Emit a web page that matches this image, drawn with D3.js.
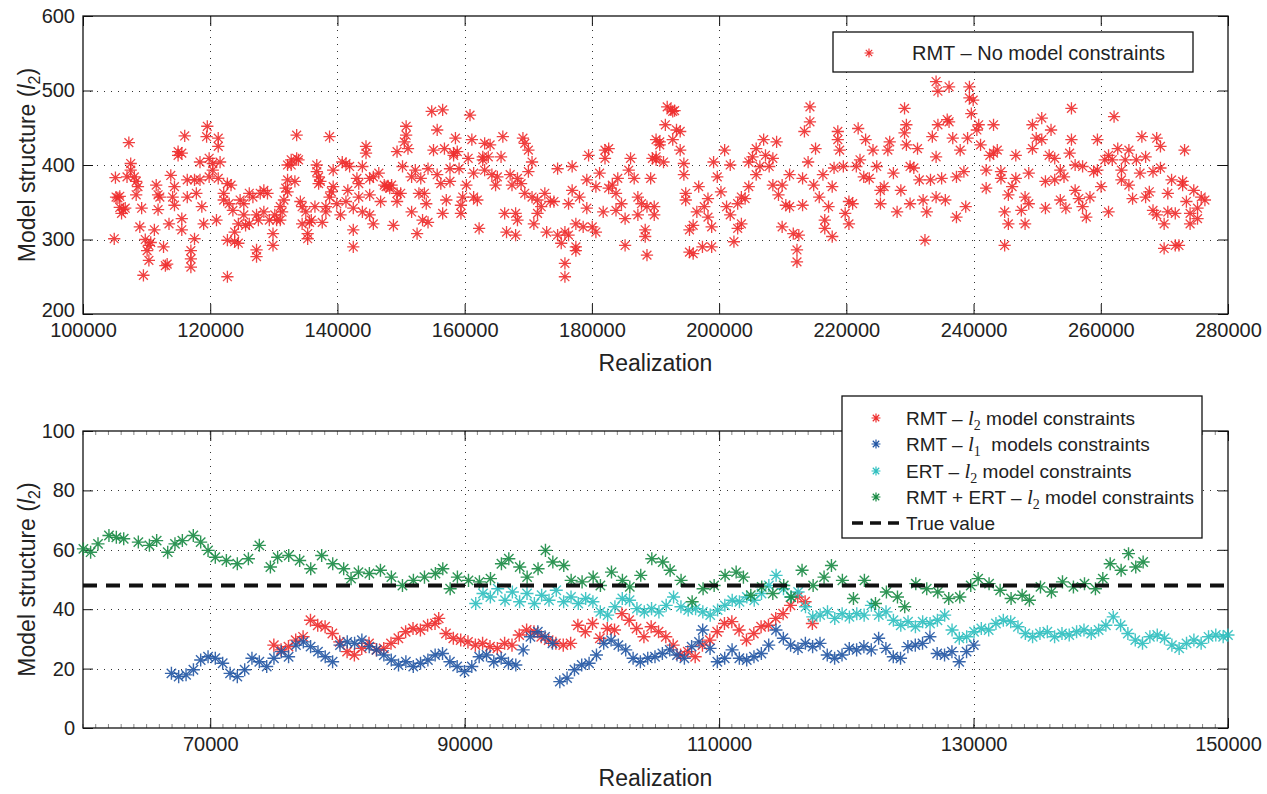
<!DOCTYPE html>
<html><head><meta charset="utf-8">
<script src="https://cdn.jsdelivr.net/npm/d3@7"></script>
<style>
html,body{margin:0;padding:0;background:#fff;}
svg text{font-family:"Liberation Sans",Arial,Helvetica,sans-serif;fill:#222;}
</style></head>
<body>
<svg id="c" width="1267" height="794"></svg>
<script>
// ---------- DATA ----------
const topXTicks = [100000,120000,140000,160000,180000,200000,220000,240000,260000,280000];
const topYTicks = [200,300,400,500,600];
const botXTicks = [70000,90000,110000,130000,150000];
const botYTicks = [0,20,40,60,80,100];
const trueValue = 48;

// RMT – No model constraints : [realization, l2]
const rmtNoConstraint = [
[104910,301],[105100,383],[105200,357],[105490,356],[105780,358],[105780,343],[106060,335],[106350,340],[106640,342],[106920,384],[107210,430],[107500,402],[107500,393],[108070,384],[108360,378],[108640,371],[108360,360],[108930,317],[109220,342],[109790,300],[110080,285],[110360,272],[109500,252],[110360,292],[110650,296],[111220,313],[111510,373],[111800,360],[111800,340],[112080,357],[112660,290],[112950,265],[113230,267],[113520,321],[113800,386],[114090,357],[114380,371],[114380,346],[114950,418],[114950,413],[115530,416],[115530,328],[115530,313],[115990,439],[116390,380],[116390,357],[116960,285],[116960,274],[116960,263],[117530,380],[117530,301],[117820,362],[118390,404],[118390,380],[118680,344],[118970,321],[119430,438],[119540,452],[119830,409],[119830,384],[120400,402],[120400,393],[120980,326],[121260,436],[121260,425],[121260,382],[121550,404],[122120,362],[122120,353],[122700,375],[122700,250],[122700,299],[122980,348],[123270,373],[123560,339],[123840,310],[123840,297],[124420,295],[124420,321],[124700,353],[125280,348],[125280,333],[125560,319],[126140,362],[126140,321],[126710,357],[127280,333],[127280,286],[127280,277],[127570,326],[127860,362],[128430,366],[128430,337],[129000,362],[129290,326],[129870,308],[129870,292],[130150,333],[130440,326],[131010,326],[131010,344],[131300,337],[131590,353],[131870,369],[132160,400],[132160,380],[132160,364],[132730,400],[132730,407],[133310,378],[133590,440],[133590,409],[133880,407],[134170,351],[134450,344],[134450,321],[135030,337],[135320,308],[135320,301],[135600,323],[135890,326],[136460,344],[136750,400],[136750,391],[137040,384],[137040,375],[137320,378],[137610,323],[138180,344],[138180,337],[138760,438],[138760,357],[139040,364],[139330,393],[139330,371],[139900,348],[140480,333],[140760,404],[141340,402],[141340,351],[141630,366],[141910,398],[142490,342],[142490,313],[142490,290],[143060,382],[143350,375],[143350,357],[143920,398],[143920,337],[144490,425],[144490,416],[145070,382],[145070,360],[145070,333],[145640,384],[145640,321],[146500,389],[146790,351],[147360,373],[147650,371],[147940,372],[148220,369],[148510,373],[148800,319],[149370,418],[149370,362],[149370,351],[149940,362],[150230,398],[150520,431],[150800,452],[150800,440],[151090,422],[151660,384],[151660,337],[152240,393],[152520,308],[152810,362],[153100,382],[153380,326],[153670,362],[153960,348],[154240,395],[154240,323],[154820,472],[155100,420],[155680,447],[155680,387],[156250,375],[156540,474],[156540,335],[156820,422],[157110,353],[157690,395],[157690,378],[158260,413],[158260,416],[158550,436],[158830,418],[159120,395],[159410,335],[159410,346],[159690,357],[160270,373],[160550,409],[160840,467],[161130,434],[161410,389],[161410,357],[161990,353],[162270,315],[162850,411],[162850,407],[163140,429],[163140,393],[163710,411],[164000,427],[164280,387],[164860,373],[165140,384],[165720,411],[166000,438],[166290,335],[166580,310],[167150,387],[167440,373],[168010,335],[168010,306],[168300,382],[168300,326],[168870,375],[169160,436],[169450,429],[169450,362],[170020,420],[170020,391],[170590,404],[170590,357],[170880,321],[171450,353],[171450,335],[172030,344],[172600,362],[172890,310],[173460,351],[174030,351],[174610,395],[174610,306],[175180,295],[175760,268],[175760,250],[175760,310],[176330,348],[176330,306],[176900,398],[176900,366],[177480,321],[177480,290],[177480,285],[178050,357],[178630,317],[179200,380],[179200,342],[179480,413],[180060,317],[180630,371],[180630,310],[181210,389],[181780,337],[182060,420],[182060,409],[182640,422],[182640,369],[183210,373],[183790,362],[183790,339],[184070,382],[184650,348],[185220,292],[185220,328],[185790,393],[186080,409],[186650,382],[187230,357],[187230,333],[187800,348],[188380,313],[188380,304],[188660,279],[188660,344],[189240,382],[189520,409],[190090,434],[190670,427],
[189800,344],[189800,333],[190090,411],[190090,407],[190670,431],[191260,404],[191550,454],[191840,478],[192420,474],[192710,472],[193000,473],[192710,434],[193300,447],[193880,445],[193880,420],[194460,402],[194460,387],[194750,362],[194750,353],[195340,313],[195340,283],[195920,319],[195920,281],[196500,337],[196790,371],[197380,290],[197670,344],[198250,355],[198250,330],[198830,290],[198830,317],[199130,404],[199710,384],[200290,364],[200870,420],[201170,344],[201750,400],[201750,333],[202330,297],[202920,348],[202920,315],[203500,357],[203500,321],[204080,355],[204660,404],[204660,371],[205250,411],[205830,422],[205830,387],[206410,398],[207000,434],[207290,413],[207870,398],[208450,409],[208450,373],[209040,431],[209330,360],[209910,373],[209910,317],[210490,346],[211080,387],[211080,344],[211660,308],[212240,286],[212240,270],[212530,306],[213120,382],[213120,346],[213410,445],[213990,404],[214280,478],[214280,458],[214870,373],[215160,422],[215740,357],[216320,387],[216610,326],[216610,315],[217200,344],[217780,371],[217780,304],[218070,396],[218660,445],[218660,434],[218950,420],[219530,398],[219820,335],[220410,351],[220410,321],[220990,348],[221570,398],[221860,449],[222150,407],[222740,384],[223030,434],[223610,382],[224190,420],[224780,398],[225360,366],[225360,348],[225940,371],[226530,420],[226820,431],[227400,389],[227980,337],[228570,366],[229150,476],[229150,443],[229440,454],[229440,427],[230020,398],[230020,348],[230610,396],[231190,422],[231480,380],[232070,353],[232360,299],[232650,337],[233230,380],[233520,438],[234110,411],[234110,357],[234110,512],[234400,499],[234400,454],[234980,382],[235560,353],[235860,461],[236150,458],[236150,505],[236730,436],[237310,384],[237310,330],[237900,420],[238480,391],[238770,344],[239060,436],[239350,505],[239350,490],[239650,469],[239940,487],[240520,447],[240810,454],[241100,427],[241980,393],[241980,369],[242560,413],[243140,454],[243140,416],[243730,420],[244310,382],[244310,391],[244890,337],[244890,292],[245470,321],[245470,360],[246060,371],[246640,413],[246640,382],[247510,339],[248100,321],[248100,357],[248680,348],[248680,389],[249260,454],[249260,422],[249850,436],[250720,463],[250720,434],[251300,378],[251300,342],[251890,413],[252180,447],[252760,409],[252760,380],[253640,393],[253640,353],[254220,384],[254510,342],[255100,416],[255390,476],[255390,434],[255970,400],[255970,366],[256550,355],[257140,398],[257140,344],[257720,330],[258300,357],[258880,391],[259470,434],[259470,393],[260050,371],[260630,407],[261220,413],[261220,337],[261800,407],[262090,465],[262670,422],[263250,393],[263250,380],[263840,407],[264420,373],[264420,420],[265000,355],[265590,407],[266170,389],[266460,438],[267050,411],[267050,357],[267630,364],[268210,339],[268210,391],[268790,436],[268790,333],[269380,425],[269380,396],[269960,288],[269960,321],[270540,337],[270540,362],[271130,380],[271710,335],[271710,292],[272290,292],[272870,378],[272870,373],[273170,420],[273460,351],[274040,321],[274040,335],[274620,366],[275210,342],[275210,328],[275790,357],[276370,353]
];

// RMT – l2 model constraints
const rmtL2 = [[75000,27.9],[75570,26.3],[76150,27.4],[76720,29.6],[77300,30.7],[77880,36.3],[78450,34.6],[79030,34.1],[79600,31.8],[80180,29],[80760,25.7],[81330,24.6],[81910,26.8],[82480,28.5],[83060,26.3],[83640,26.8],[84210,28.5],[84790,30.2],[85360,32.4],[85940,33.5],[86520,33],[87090,34.6],[87670,35.2],[87960,36.9],[88530,31.8],[89110,30.2],[89690,29.6],[90260,29],[90840,27.9],[91410,28.5],[91990,27.4],[92570,26.8],[93140,28.5],[93720,27.9],[94290,31.3],[94870,33],[95450,32.4],[96020,30.7],[96600,29.6],[97170,28.5],[97750,27.9],[98330,28.5],[98900,34.6],[99480,32.4],[100050,35.2],[100630,30.2],[101210,33.5],[101780,33],[102360,38.5],[102930,36.3],[103510,33.5],[104090,30.7],[104660,34.1],[105240,32.4],[105810,30.7],[106390,27.9],[106970,24.6],[107540,25.7],[108120,24],[108690,27.9],[109270,29.6],[109850,32.4],[110420,35.2],[111000,35.8],[111570,33],[112150,29.6],[112730,31.8],[113300,34.1],[113880,34.6],[114450,36.9],[115030,38.5],[115610,41.3],[116180,44.1],[116760,42.5],[117330,35.2]];

// RMT – l1 models constraints
const rmtL1 = [[66950,18.4],[67520,17.3],[68100,17.9],[68680,19.6],[69250,22.9],[69830,24],[70400,23.5],[70980,21.8],[71560,18.4],[72130,17.3],[72710,19.6],[73280,23.5],[73860,22.3],[74440,20.7],[75010,23.5],[75590,25.7],[76160,24],[76740,27.9],[77320,29],[77890,27.4],[78470,25.7],[79040,24],[79620,22.3],[80200,27.9],[80770,29],[81350,28.5],[81920,29.6],[82500,27.4],[83080,26.3],[83650,24.6],[84230,22.9],[84800,21.2],[85380,22.3],[85960,20.7],[86530,21.8],[87110,22.9],[87680,24.6],[88260,25.1],[88840,22.3],[89410,20.7],[89990,19],[90560,20.7],[91140,24],[91720,24.6],[92290,22.3],[92870,23.5],[93440,21.8],[94020,21.2],[94600,26.3],[95170,30.7],[95750,32.4],[96320,30.7],[96900,28.5],[97480,15.6],[98050,16.8],[98630,19.6],[99200,21.2],[99780,21.8],[100360,24.6],[100930,28.5],[101510,29.6],[102080,27.9],[102660,26.3],[103240,23.5],[103810,22.3],[104390,23.5],[104960,24],[105540,25.1],[106120,26.3],[106690,24.6],[107270,23.5],[107840,27.4],[108420,29],[108710,33],[109290,26.8],[109860,22.3],[110440,23.5],[111020,26.3],[111590,23.5],[112170,22.9],[112740,24],[113320,25.1],[113900,27.9],[114470,33],[115050,30.2],[115620,27.9],[116200,26.8],[116780,28.5],[117350,27.4],[117930,28.5],[118500,24.6],[119080,23.5],[119660,24.6],[120230,26.8],[120810,26.3],[121380,27.4],[121960,26.3],[122540,30.2],[123110,26.8],[123690,24],[124260,23.5],[124840,27.4],[125420,27.9],[125990,28.5],[126570,30.7],[127140,25.1],[127720,24.6],[128300,25.7],[128870,22.3],[129450,25.7],[130020,27.9]];

// ERT – l2 model constraints
const ertL2 = [[90870,41.9],[91440,45.3],[92020,44.1],[92600,46.9],[93170,43],[93750,45.8],[94320,42.5],[94900,45.3],[95480,41.9],[96050,44.7],[96630,43],[97200,46.4],[97780,42.5],[98360,44.1],[98930,41.9],[99510,43.6],[100080,42.5],[100660,39.1],[101240,38],[101810,40.8],[102390,43.6],[102960,43],[103540,40.2],[104120,39.1],[104690,40.2],[105270,39.1],[105840,41.3],[106420,44.1],[107000,40.8],[107570,39.7],[108150,40.2],[108720,39.1],[109300,38],[109880,39.7],[110450,41.3],[111030,43],[111600,42.5],[112180,44.1],[112760,43],[113330,45.3],[113910,48],[114480,51.4],[115060,46.9],[115640,44.1],[116210,45.8],[116790,40.8],[117360,37.4],[117940,38],[118520,39.1],[119090,36.9],[119670,38.5],[120240,37.4],[120820,38.5],[121400,38],[121970,41.3],[122550,38],[123120,39.1],[123700,36.3],[124280,34.6],[124850,35.8],[125430,34.1],[126000,35.8],[126580,35.2],[127160,36.3],[127730,38],[128310,33],[128880,30.2],[129460,30.7],[130040,32.4],[130610,33.5],[131190,33],[131760,35.2],[132340,36.3],[132920,35.8],[133490,34.1],[134070,31.8],[134640,30.7],[135220,31.8],[135800,32.4],[136370,30.7],[136950,31.8],[137520,31.3],[138100,32.4],[138680,33],[139250,31.8],[139830,33],[140400,34.6],[140980,37.4],[141560,34.6],[142130,31.8],[142710,29.6],[143280,28.5],[143860,30.7],[144440,31.3],[145010,30.2],[145590,27.9],[146160,26.8],[146740,28.5],[147320,29.6],[147890,28.5],[148470,30.7],[149040,31.3],[149620,30.7],[150000,31.3]];

// RMT + ERT – l2 model constraints
const rmtErtL2 = [[60030,60.3],[60600,59.2],[61180,62],[62040,64.8],[62620,64.2],[63200,63.7],[64350,62.6],[65220,61.5],[65790,63.1],[66660,59.2],[67230,62],[67810,63.1],[68670,64.8],[69250,62.6],[69830,59.8],[70400,57.5],[71270,56.4],[72130,55.3],[73000,57],[73860,61.5],[74730,54.2],[75300,57.5],[76170,58.1],[77030,56.4],[77900,53.6],[78760,58.1],[79630,55.3],[80490,53.6],[81070,50.3],[81650,52.5],[82510,52],[83380,53.1],[84240,50.8],[85110,48],[85970,49.7],[86840,50.8],[87700,52],[88280,53.6],[88860,46.9],[89430,50.8],[90300,49.7],[91160,49.2],[92030,50.3],[92890,55.3],[93470,57],[94330,54.2],[94910,50.8],[95770,53.6],[96350,59.8],[96930,55.9],[97790,54.7],[98370,49.7],[99230,49.2],[100100,50.8],[100670,48],[101540,52.5],[102400,49.7],[102980,47.5],[103840,51.4],[104710,57],[105570,55.9],[106150,53.1],[107010,49.7],[107880,42.5],[108740,46.9],[109610,48],[110470,51.4],[111340,52.5],[111910,50.8],[112490,44.7],[113350,47.5],[114220,45.3],[115080,48],[115660,44.1],[116520,53.1],[117390,48],[118250,50.8],[118830,54.7],[119690,49.7],[120560,43.6],[121420,49.7],[122290,41.9],[123150,45.8],[124020,44.1],[124590,40.8],[125460,48.6],[126320,46.9],[127190,45.8],[128050,43.6],[128920,44.1],[129780,48],[130360,50.3],[131220,48.6],[132090,46.4],[132950,43.6],[133820,44.7],[134390,43],[135260,47.5],[136120,45.8],[136990,49.2],[137850,47.5],[138720,48.6],[139580,46.9],[140160,50.3],[140740,55.3],[141600,53.1],[142180,58.7],[142750,54.2],[143330,55.9]];

// ---------- DRAW ----------
const svg = d3.select("#c");
const FONT = '"Liberation Sans",Arial,Helvetica,sans-serif';

// MATLAB-like asterisk marker
const asterisk = {
  draw(ctx, size) {
    const r = Math.sqrt(size) / 2, d = r * 0.72;
    ctx.moveTo(-r, 0); ctx.lineTo(r, 0);
    ctx.moveTo(0, -r); ctx.lineTo(0, r);
    ctx.moveTo(-d, -d); ctx.lineTo(d, d);
    ctx.moveTo(-d, d); ctx.lineTo(d, -d);
  }
};
const starPath = (s) => d3.symbol().type(asterisk).size(s)();

function panel(cfg) {
  const x = d3.scaleLinear().domain(cfg.xDomain).range([cfg.left, cfg.right]);
  const y = d3.scaleLinear().domain(cfg.yDomain).range([cfg.bottom, cfg.top]);
  const g = svg.append("g");

  // grid
  const grid = g.append("g").attr("stroke", "#333").attr("stroke-width", 1)
    .attr("stroke-dasharray", "1,6").attr("shape-rendering", "crispEdges");
  cfg.xTicks.filter(t => t > cfg.xDomain[0] && t < cfg.xDomain[1]).forEach(t => {
    grid.append("line").attr("x1", Math.round(x(t)) + 0.5).attr("x2", Math.round(x(t)) + 0.5)
      .attr("y1", cfg.top).attr("y2", cfg.bottom);
  });
  cfg.yTicks.filter(t => t > cfg.yDomain[0] && t < cfg.yDomain[1]).forEach(t => {
    grid.append("line").attr("y1", Math.round(y(t)) + 0.5).attr("y2", Math.round(y(t)) + 0.5)
      .attr("x1", cfg.left).attr("x2", cfg.right);
  });

  // minor ticks (bottom panel)
  if (cfg.minorX) {
    const mg = g.append("g").attr("stroke", "#555").attr("stroke-width", 0.7);
    d3.range(cfg.xDomain[0], cfg.xDomain[1] + 1, cfg.minorX).forEach(t => {
      mg.append("line").attr("x1", x(t)).attr("x2", x(t)).attr("y1", cfg.bottom).attr("y2", cfg.bottom - 4);
      mg.append("line").attr("x1", x(t)).attr("x2", x(t)).attr("y1", cfg.top).attr("y2", cfg.top + 4);
    });
  }

  // axes
  const fmt = d3.format("d");
  const ax = g.append("g").attr("transform", `translate(0,${cfg.bottom})`)
    .call(d3.axisBottom(x).tickValues(cfg.xTicks).tickFormat(fmt).tickSizeInner(-10).tickSizeOuter(0).tickPadding(cfg.xPad));
  const axT = g.append("g").attr("transform", `translate(0,${cfg.top})`)
    .call(d3.axisTop(x).tickValues(cfg.xTicks).tickFormat("").tickSizeInner(-10).tickSizeOuter(0));
  const ay = g.append("g").attr("transform", `translate(${cfg.left},0)`)
    .call(d3.axisLeft(y).tickValues(cfg.yTicks).tickFormat(fmt).tickSizeInner(-10).tickSizeOuter(0).tickPadding(8));
  const ayR = g.append("g").attr("transform", `translate(${cfg.right},0)`)
    .call(d3.axisRight(y).tickValues(cfg.yTicks).tickFormat("").tickSizeInner(-10).tickSizeOuter(0));
  [ax, axT, ay, ayR].forEach(a => {
    a.select(".domain").remove();
    a.selectAll("line").attr("stroke", "#111").attr("stroke-width", 1);
    a.selectAll("text").attr("font-size", 20).attr("font-family", FONT).attr("fill", "#222");
  });
  // keep the lowest y label just above the corner x label (top panel)
  if (cfg.liftFirstY) ay.selectAll(".tick text").filter(d => d === cfg.yDomain[0]).attr("dy", "0.1em");
  // box
  g.append("rect").attr("x", cfg.left).attr("y", cfg.top)
    .attr("width", cfg.right - cfg.left).attr("height", cfg.bottom - cfg.top)
    .attr("fill", "none").attr("stroke", "#111").attr("stroke-width", 1.3);

  // labels
  g.append("text").attr("x", (cfg.left + cfg.right) / 2).attr("y", cfg.xLabelY)
    .attr("text-anchor", "middle").attr("font-size", 23).text("Realization");
  const yl = g.append("text").attr("transform", `translate(${cfg.yLabelX},${(cfg.top + cfg.bottom) / 2}) rotate(-90)`)
    .attr("text-anchor", "middle").attr("font-size", 23);
  yl.append("tspan").text("Model structure (");
  yl.append("tspan").attr("font-style", "italic").text("l");
  yl.append("tspan").attr("font-size", 16).attr("dy", 5).text("2");
  yl.append("tspan").attr("dy", -5).text(")");

  return { x, y, g };
}

function stars(p, data, color, size, sw) {
  p.g.append("g").selectAll("path").data(data).join("path")
    .attr("transform", d => `translate(${p.x(d[0])},${p.y(d[1])})`)
    .attr("d", starPath(size))
    .attr("fill", "none").attr("stroke", color).attr("stroke-width", sw).attr("stroke-opacity", 0.9);
}

// ---- top panel ----
const P1 = panel({ xDomain: [100000, 280000], yDomain: [200, 600], left: 83, right: 1228, top: 16, bottom: 314,
  xTicks: topXTicks, yTicks: topYTicks, xPad: 9, xLabelY: 371, yLabelX: 35, liftFirstY: true });
const RED = "#ee2e2e", BLUE = "#2155a3", CYAN = "#2ebfbf", GREEN = "#178a42";
stars(P1, rmtNoConstraint, RED, 150, 1.3);

// legend top
const L1 = svg.append("g");
L1.append("rect").attr("x", 833).attr("y", 32).attr("width", 360).attr("height", 40)
  .attr("fill", "#fff").attr("stroke", "#111").attr("stroke-width", 1.3);
L1.append("path").attr("transform", "translate(869,53)").attr("d", starPath(80))
  .attr("fill", "none").attr("stroke", RED).attr("stroke-width", 1.1);
L1.append("text").attr("x", 912).attr("y", 60).attr("font-size", 20).text("RMT \u2013 No model constraints");

// ---- bottom panel ----
const P2 = panel({ xDomain: [60000, 150000], yDomain: [0, 100], left: 83, right: 1228, top: 431, bottom: 728,
  xTicks: botXTicks, yTicks: botYTicks, xPad: 9, xLabelY: 786, yLabelX: 35, minorX: 1000 });
stars(P2, rmtL2, RED, 170, 1.4);
stars(P2, rmtL1, BLUE, 170, 1.4);
stars(P2, ertL2, CYAN, 170, 1.4);
stars(P2, rmtErtL2, GREEN, 170, 1.4);
P2.g.append("line").attr("x1", P2.x(60000)).attr("x2", P2.x(150000))
  .attr("y1", P2.y(trueValue)).attr("y2", P2.y(trueValue))
  .attr("stroke", "#111").attr("stroke-width", 4).attr("stroke-dasharray", "14,9");

// legend bottom
const L2 = svg.append("g");
L2.append("rect").attr("x", 842).attr("y", 396).attr("width", 360).attr("height", 142)
  .attr("fill", "#fff").attr("stroke", "#111").attr("stroke-width", 1.3);
const legRows = [
  { c: RED, pre: "RMT \u2013 ", sub: "2", post: " model constraints" },
  { c: BLUE, pre: "RMT \u2013 ", sub: "1", post: "\u00a0\u00a0models constraints" },
  { c: CYAN, pre: "ERT \u2013 ", sub: "2", post: " model constraints" },
  { c: GREEN, pre: "RMT + ERT \u2013 ", sub: "2", post: " model constraints" }
];
const rowY = [418, 444, 471, 497];
legRows.forEach((r, i) => {
  L2.append("path").attr("transform", `translate(876,${rowY[i]})`).attr("d", starPath(80))
    .attr("fill", "none").attr("stroke", r.c).attr("stroke-width", 1.2);
  const t = L2.append("text").attr("x", 906).attr("y", rowY[i] + 7).attr("font-size", 19);
  t.append("tspan").text(r.pre);
  t.append("tspan").attr("font-family", '"Liberation Serif","Times New Roman",serif').attr("font-style", "italic").attr("font-size", 21).text("l");
  t.append("tspan").attr("font-family", '"Liberation Serif","Times New Roman",serif').attr("font-size", 14).attr("dy", 5).text(r.sub);
  t.append("tspan").attr("dy", -5).text(r.post);
});
L2.append("line").attr("x1", 852).attr("x2", 900).attr("y1", 523).attr("y2", 523)
  .attr("stroke", "#111").attr("stroke-width", 3.5).attr("stroke-dasharray", "11,7");
L2.append("text").attr("x", 906).attr("y", 530).attr("font-size", 19).text("True value");
</script>
</body></html>
